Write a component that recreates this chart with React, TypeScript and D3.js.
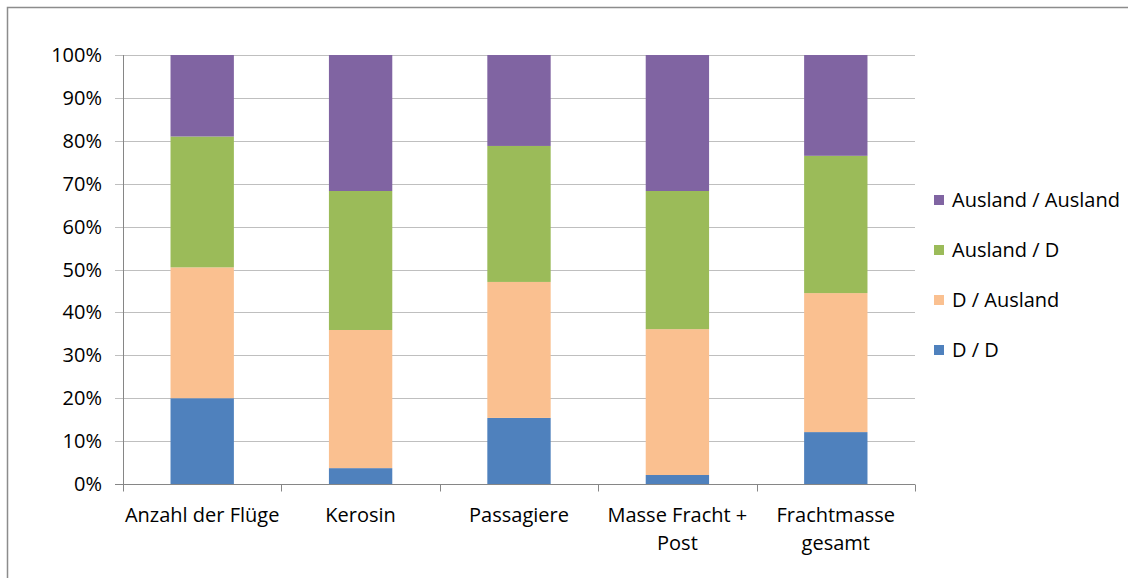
import React, { useEffect, useRef } from "react";
import * as d3 from "d3";

// categories on the x axis (lines split with \n)
const categories = [
    "Anzahl der Flüge",
    "Kerosin",
    "Passagiere",
    "Masse Fracht +\nPost",
    "Frachtmasse\ngesamt",
];

// shares per category, in percent
const dd = [20.0, 3.7, 15.4, 2.1, 12.1];
const dAusland = [30.5, 32.2, 31.7, 34.0, 32.4];
const auslandD = [30.5, 32.4, 31.7, 32.2, 32.0];
const auslandAusland = [19.0, 31.7, 21.2, 31.7, 23.5];

const seriesNames = ["D / D", "D / Ausland", "Ausland / D", "Ausland / Ausland"];
const seriesColors = ["#4F81BD", "#FAC090", "#9BBB59", "#8064A2"];
const yTicks = [0, 10, 20, 30, 40, 50, 60, 70, 80, 90, 100];

const FONT = "'Open Sans', 'Noto Sans', sans-serif";
const FS = 20;

const App: React.FC = () => {
    const svgRef = useRef<SVGSVGElement>(null);
    const width = 1128;
    const height = 578;

    useEffect(() => {
        document.body.style.margin = "0";
        if (!svgRef.current) return;
        const svg = d3.select(svgRef.current);
        svg.selectAll("*").remove();

        const margin = { top: 55, left: 123, right: 1128 - 915, bottom: 578 - 484 };

        const x = d3
            .scaleBand<string>()
            .domain(categories)
            .range([margin.left, width - margin.right])
            .paddingInner(0.6)
            .paddingOuter(0.3);
        const band = d3
            .scaleBand<string>()
            .domain(categories)
            .range([margin.left, width - margin.right]);
        const y = d3
            .scaleLinear()
            .domain([0, 100])
            .range([height - margin.bottom, margin.top]);

        // outer border (top + left visible)
        svg.append("rect")
            .attr("x", 7.5)
            .attr("y", 7.5)
            .attr("width", width)
            .attr("height", height)
            .attr("fill", "none")
            .attr("stroke", "#8c8c8c")
            .attr("stroke-width", 1.5);

        // gridlines
        svg.append("g")
            .selectAll("line")
            .data(yTicks.slice(1))
            .join("line")
            .attr("x1", margin.left - 8)
            .attr("x2", width - margin.right)
            .attr("y1", (d) => Math.round(y(d)) + 0.5)
            .attr("y2", (d) => Math.round(y(d)) + 0.5)
            .attr("stroke", "#bfbfbf")
            .attr("stroke-width", 1);

        // y tick labels
        svg.append("g")
            .selectAll("text")
            .data(yTicks)
            .join("text")
            .attr("x", margin.left - 21)
            .attr("y", (d) => y(d))
            .attr("dy", "0.35em")
            .attr("text-anchor", "end")
            .attr("font-family", FONT)
            .attr("font-size", FS)
            .attr("fill", "#000")
            .text((d) => `${d}%`);

        // stacked bars
        const rows = categories.map((c, i) => ({
            cat: c,
            v0: dd[i],
            v1: dAusland[i],
            v2: auslandD[i],
            v3: auslandAusland[i],
        }));
        const stack = d3.stack<any>().keys(["v0", "v1", "v2", "v3"]);
        const layers = stack(rows);

        svg.append("g")
            .selectAll("g")
            .data(layers)
            .join("g")
            .attr("fill", (_, i) => seriesColors[i])
            .selectAll("rect")
            .data((d) => d)
            .join("rect")
            .attr("x", (d) => x(d.data.cat)!)
            .attr("width", x.bandwidth())
            .attr("y", (d) => y(d[1]))
            .attr("height", (d) => y(d[0]) - y(d[1]));

        // axes lines
        const y0 = Math.round(y(0)) + 0.5;
        svg.append("line")
            .attr("x1", margin.left - 8)
            .attr("x2", width - margin.right)
            .attr("y1", y0)
            .attr("y2", y0)
            .attr("stroke", "#868686");
        svg.append("line")
            .attr("x1", margin.left + 0.5)
            .attr("x2", margin.left + 0.5)
            .attr("y1", y(100))
            .attr("y2", y0)
            .attr("stroke", "#868686");

        // x category ticks
        const bounds = categories.map((c) => band(c)!).concat([width - margin.right]);
        svg.append("g")
            .selectAll("line")
            .data(bounds)
            .join("line")
            .attr("x1", (d) => Math.round(d) + 0.5)
            .attr("x2", (d) => Math.round(d) + 0.5)
            .attr("y1", y0)
            .attr("y2", y0 + 7)
            .attr("stroke", "#868686");

        // x labels
        const xl = svg
            .append("g")
            .selectAll("text")
            .data(categories)
            .join("text")
            .attr("x", (d) => band(d)! + band.bandwidth() / 2)
            .attr("y", 522)
            .attr("text-anchor", "middle")
            .attr("font-family", FONT)
            .attr("font-size", FS)
            .attr("fill", "#000");
        xl.selectAll("tspan")
            .data((d) => d.split("\n"))
            .join("tspan")
            .attr("x", function () {
                return (this.parentNode as SVGTextElement).getAttribute("x");
            })
            .attr("dy", (_, i) => (i === 0 ? 0 : 28))
            .text((d) => d);

        // legend (reverse order)
        const legendY = [200, 250, 300, 350];
        const order = [3, 2, 1, 0];
        const lg = svg
            .append("g")
            .selectAll("g")
            .data(order)
            .join("g")
            .attr("transform", (_, i) => `translate(934,${legendY[i]})`);
        lg.append("rect")
            .attr("x", 0)
            .attr("y", -5)
            .attr("width", 10)
            .attr("height", 10)
            .attr("fill", (d) => seriesColors[d]);
        lg.append("text")
            .attr("x", 18)
            .attr("y", 0)
            .attr("dy", "0.35em")
            .attr("font-family", FONT)
            .attr("font-size", FS)
            .attr("fill", "#000")
            .text((d) => seriesNames[d]);
    }, []);

    return <svg ref={svgRef} width={width} height={height} style={{ display: "block" }}></svg>;
};

export default App;
